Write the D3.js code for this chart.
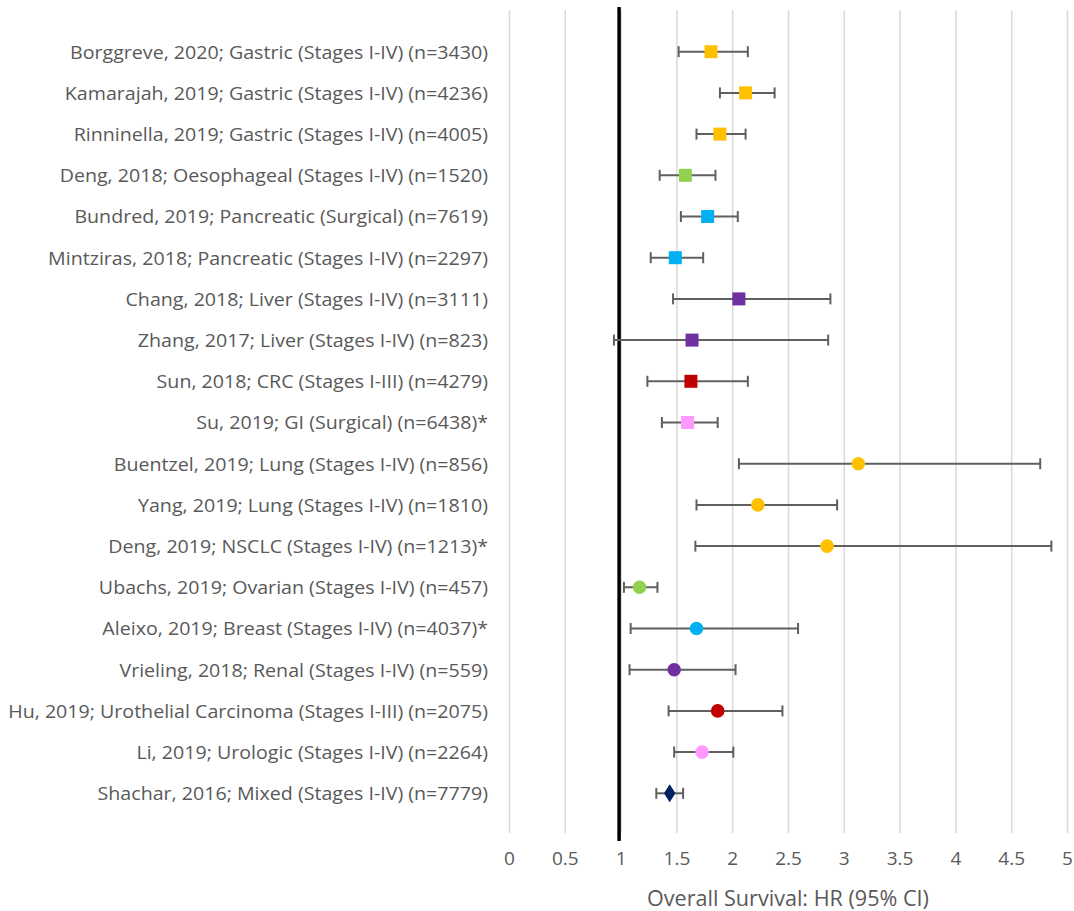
<!DOCTYPE html>
<html>
<head>
<meta charset="utf-8">
<script src="https://cdn.jsdelivr.net/npm/d3@7"></script>
<style>
  html, body { margin: 0; padding: 0; background: #fff; }
  svg { display: block; }
</style>
</head>
<body>
<svg id="chart" width="1074" height="911"></svg>
<script>
const studies = [
  "Borggreve, 2020; Gastric (Stages I-IV) (n=3430)",
  "Kamarajah, 2019; Gastric (Stages I-IV) (n=4236)",
  "Rinninella, 2019; Gastric (Stages I-IV) (n=4005)",
  "Deng, 2018; Oesophageal (Stages I-IV) (n=1520)",
  "Bundred, 2019; Pancreatic (Surgical) (n=7619)",
  "Mintziras, 2018; Pancreatic (Stages I-IV) (n=2297)",
  "Chang, 2018; Liver (Stages I-IV) (n=3111)",
  "Zhang, 2017; Liver (Stages I-IV) (n=823)",
  "Sun, 2018; CRC (Stages I-III) (n=4279)",
  "Su, 2019; GI (Surgical) (n=6438)*",
  "Buentzel, 2019; Lung (Stages I-IV) (n=856)",
  "Yang, 2019; Lung (Stages I-IV) (n=1810)",
  "Deng, 2019; NSCLC (Stages I-IV) (n=1213)*",
  "Ubachs, 2019; Ovarian (Stages I-IV) (n=457)",
  "Aleixo, 2019; Breast (Stages I-IV) (n=4037)*",
  "Vrieling, 2018; Renal (Stages I-IV) (n=559)",
  "Hu, 2019; Urothelial Carcinoma (Stages I-III) (n=2075)",
  "Li, 2019; Urologic (Stages I-IV) (n=2264)",
  "Shachar, 2016; Mixed (Stages I-IV) (n=7779)"
];
const hr    = [1.81, 2.12, 1.89, 1.58, 1.78, 1.49, 2.06, 1.64, 1.63, 1.60, 3.13, 2.23, 2.85, 1.17, 1.68, 1.48, 1.87, 1.73, 1.44];
const lower = [1.52, 1.89, 1.68, 1.35, 1.54, 1.27, 1.47, 0.94, 1.24, 1.37, 2.06, 1.68, 1.67, 1.03, 1.09, 1.08, 1.43, 1.48, 1.32];
const upper = [2.14, 2.38, 2.12, 1.85, 2.05, 1.74, 2.88, 2.86, 2.14, 1.87, 4.76, 2.94, 4.86, 1.33, 2.59, 2.03, 2.45, 2.01, 1.56];
const markerColors = ["#FFC000","#FFC000","#FFC000","#92D050","#00B0F0","#00B0F0","#7030A0","#7030A0","#C00000","#FF99FF",
                      "#FFC000","#FFC000","#FFC000","#92D050","#00B0F0","#7030A0","#C00000","#FF99FF","#002060"];
const markerShapes = ["square","square","square","square","square","square","square","square","square","square",
                      "circle","circle","circle","circle","circle","circle","circle","circle","diamond"];
const xTicks = [0, 0.5, 1, 1.5, 2, 2.5, 3, 3.5, 4, 4.5, 5];
const xTitle = "Overall Survival: HR (95% CI)";

const data = studies.map((s, i) => ({study: s, hr: hr[i], lo: lower[i], hi: upper[i], color: markerColors[i], shape: markerShapes[i]}));

const svg = d3.select("#chart");
const font = "'Open Sans', 'DejaVu Sans', sans-serif";
const textColor = "#595959";

const x = d3.scaleLinear().domain([0, 5]).range([509, 1067]);
const y = d3.scalePoint().domain(studies).range([51.7, 793.3]);

const gridTop = 10, gridBottom = 833;

// gridlines
svg.append("g")
  .attr("transform", `translate(0,${gridBottom})`)
  .call(d3.axisBottom(x).tickValues(xTicks).tickSize(-(gridBottom - gridTop)).tickFormat(""))
  .call(g => g.select(".domain").remove())
  .call(g => g.selectAll("line").attr("stroke", "#d9d9d9").attr("stroke-width", 1.5));

// tick labels
svg.append("g")
  .attr("transform", `translate(0,${gridBottom + 15})`)
  .call(d3.axisBottom(x).tickValues(xTicks).tickSize(0).tickFormat(d3.format("")))
  .call(g => g.select(".domain").remove())
  .call(g => g.selectAll("text")
      .attr("font-family", font).attr("font-size", 19).attr("fill", textColor)
      .attr("dy", "0.71em"));

// reference line at HR = 1
svg.append("line")
  .attr("x1", x(1) - 1.5).attr("x2", x(1) - 1.5)
  .attr("y1", 7).attr("y2", 841)
  .attr("stroke", "#000").attr("stroke-width", 3.5);

// axis title
const title = svg.append("text")
  .attr("x", (x(0) + x(5)) / 2).attr("y", 906)
  .attr("text-anchor", "middle")
  .attr("font-family", font).attr("font-size", 21.5).attr("fill", textColor)
  .text(xTitle);
const tLen = title.node().getComputedTextLength();
title.attr("textLength", 282).attr("lengthAdjust", "spacingAndGlyphs");

// study labels
const labels = svg.append("g").selectAll("text").data(data).join("text")
  .attr("x", 488).attr("y", d => y(d.study))
  .attr("dy", "0.36em")
  .attr("text-anchor", "end")
  .attr("font-family", font).attr("font-size", 19).attr("fill", textColor)
  .text(d => d.study);

// fit label widths to reference proportions
const firstLen = labels.nodes()[0].getComputedTextLength();
const k = 418 / firstLen;
labels.each(function() {
  const len = this.getComputedTextLength();
  d3.select(this).attr("textLength", len * k).attr("lengthAdjust", "spacingAndGlyphs");
});

// error bars
const eb = svg.append("g").selectAll("g").data(data).join("g")
  .attr("stroke", "#5f5f5f").attr("stroke-width", 2);
eb.append("line")
  .attr("x1", d => x(d.lo)).attr("x2", d => x(d.hi))
  .attr("y1", d => y(d.study)).attr("y2", d => y(d.study));
eb.append("line")
  .attr("x1", d => x(d.lo)).attr("x2", d => x(d.lo))
  .attr("y1", d => y(d.study) - 5.5).attr("y2", d => y(d.study) + 5.5);
eb.append("line")
  .attr("x1", d => x(d.hi)).attr("x2", d => x(d.hi))
  .attr("y1", d => y(d.study) - 5.5).attr("y2", d => y(d.study) + 5.5);

// markers
const symbolType = {square: d3.symbolSquare, circle: d3.symbolCircle, diamond: d3.symbolDiamond};
const symbolSize = {square: 13 * 13, circle: Math.PI * 6.8 * 6.8, diamond: 95};
svg.append("g").selectAll("path").data(data).join("path")
  .attr("transform", d => `translate(${x(d.hr)},${y(d.study)})${d.shape === "diamond" ? " scale(1.1,1)" : ""}`)
  .attr("d", d => d3.symbol().type(symbolType[d.shape]).size(symbolSize[d.shape])())
  .attr("fill", d => d.color);
</script>
</body>
</html>
